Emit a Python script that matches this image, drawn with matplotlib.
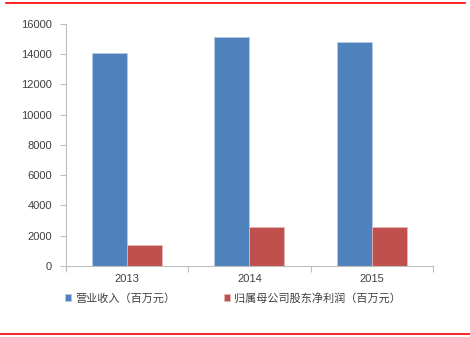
import numpy as np
import matplotlib
matplotlib.use("Agg")
import matplotlib.pyplot as plt
from matplotlib.lines import Line2D

plt.rcParams['font.family'] = ['Liberation Sans', 'Noto Sans CJK SC', 'DejaVu Sans']

years = ['2013', '2014', '2015']
revenue = [14050, 15150, 14800]
net_profit = [1380, 2580, 2580]
series_names = ['营业收入（百万元）', '归属母公司股东净利润（百万元）']

fig = plt.figure(figsize=(4.7, 3.37), dpi=100)
ax = fig.add_axes([0.140, 0.211, 0.781, 0.718])

x = np.arange(len(years))
w = 0.287
ax.bar(x - w / 2, revenue, w, color='#4f81bd', edgecolor='#b9cde5', linewidth=0.5, label=series_names[0])
ax.bar(x + w / 2, net_profit, w, color='#c0504d', edgecolor='#e6b9b8', linewidth=0.5, label=series_names[1])

ax.set_xlim(-0.5, 2.5)
ax.set_ylim(0, 16000)
ax.set_yticks(range(0, 16001, 2000))
ax.set_xticks(x)
ax.set_xticklabels(years)
ax.set_xticks([-0.5, 0.5, 1.5, 2.5], minor=True)

for s in ['top', 'right']:
    ax.spines[s].set_visible(False)
for s in ['left', 'bottom']:
    ax.spines[s].set_color('#bfbfbf')
    ax.spines[s].set_linewidth(0.8)

ax.tick_params(axis='y', colors='#bfbfbf', labelcolor='#404040', labelsize=8, length=4, width=0.8, pad=6)
ax.tick_params(axis='x', which='major', length=0, labelcolor='#404040', labelsize=8, pad=6)
ax.tick_params(axis='x', which='minor', colors='#bfbfbf', length=4, width=0.8)

leg = ax.legend(loc='upper left', bbox_to_anchor=(-0.03, -0.07), ncol=2, frameon=False,
                fontsize=8, handlelength=0.6, handleheight=0.6, handletextpad=0.3,
                columnspacing=4.4, labelcolor='#404040')

fig.add_artist(Line2D([6 / 470, 465 / 470], [1 - 3 / 337, 1 - 3 / 337], color='#ff0000', linewidth=1.2))
fig.add_artist(Line2D([0, 1], [1 - 334 / 337, 1 - 334 / 337], color='#ff0000', linewidth=1.2))

fig.savefig('out.png', dpi=100)
